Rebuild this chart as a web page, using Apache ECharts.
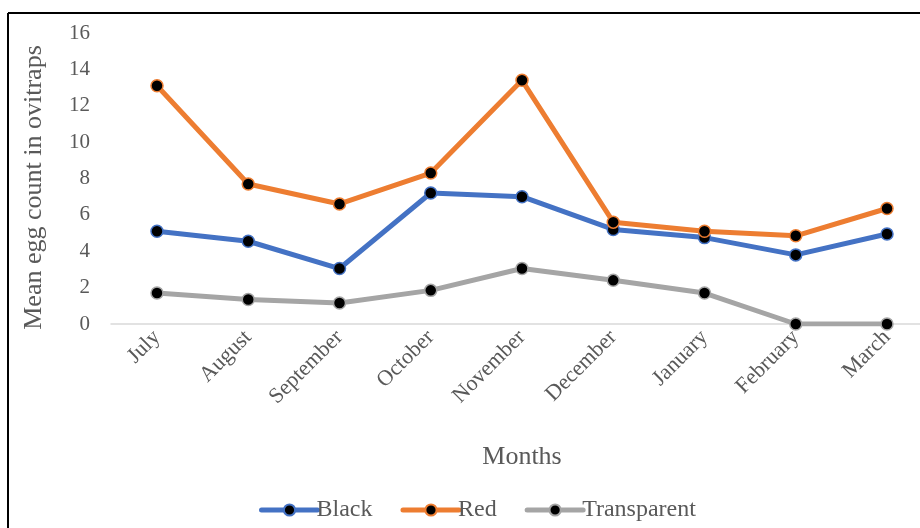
<!DOCTYPE html>
<html>
<head>
<meta charset="utf-8">
<script src="https://cdn.jsdelivr.net/npm/echarts@6/dist/echarts.min.js"></script>
<style>html,body{margin:0;padding:0;background:#fff}#c{width:920px;height:528px}</style>
</head>
<body>
<div id="c"></div>
<script>
const months = ['July','August','September','October','November','December','January','February','March'];
const black = [5.1, 4.55, 3.05, 7.2, 7.0, 5.2, 4.75, 3.8, 4.95];
const red = [13.1, 7.7, 6.6, 8.3, 13.4, 5.6, 5.1, 4.85, 6.35];
const transparent = [1.7, 1.35, 1.15, 1.85, 3.05, 2.4, 1.7, 0, 0];
const seriesNames = ['Black', 'Red', 'Transparent'];
const seriesColors = ['#4472C4', '#ED7D31', '#A5A5A5'];
const seriesData = [black, red, transparent];
const yMin = 0, yMax = 16, yStep = 2;

const font = "'Liberation Serif', 'Times New Roman', serif";
const chart = echarts.init(document.getElementById('c'));
chart.setOption({
  animation: false,
  backgroundColor: '#fff',
  graphic: [
    {type: 'line', shape: {x1: 8, y1: 13, x2: 920, y2: 13}, style: {stroke: '#000', lineWidth: 2}},
    {type: 'line', shape: {x1: 8, y1: 13, x2: 8, y2: 528}, style: {stroke: '#000', lineWidth: 2}}
  ],
  grid: [
    {left: 157, right: 33, top: 33, height: 291},
    {left: 111, right: 0, top: 33, height: 291}
  ],
  legend: {
    left: 254, top: 493,
    itemWidth: 56, itemHeight: 14, itemGap: 28,
    lineStyle: {width: 5, cap: 'round'},
    textStyle: {fontFamily: font, fontSize: 24, color: '#595959', padding: [0, 0, 0, -6]},
    data: seriesNames
  },
  xAxis: [
    {
      type: 'category',
      gridIndex: 0,
      data: months,
      boundaryGap: false,
      name: 'Months',
      nameLocation: 'middle',
      nameGap: 120,
      nameTextStyle: {fontFamily: font, fontSize: 26, color: '#595959'},
      axisLine: {show: false},
      axisTick: {show: false},
      splitLine: {show: false},
      axisLabel: {rotate: 45, fontFamily: font, fontSize: 22, color: '#595959', margin: 10, interval: 0}
    },
    {
      type: 'value',
      gridIndex: 1,
      min: 0, max: 1,
      axisLine: {show: true, lineStyle: {color: '#D9D9D9', width: 1.5}},
      axisTick: {show: false},
      axisLabel: {show: false},
      splitLine: {show: false}
    }
  ],
  yAxis: [
    {
      type: 'value',
      gridIndex: 0,
      min: yMin, max: yMax, interval: yStep,
      show: false
    },
    {
      type: 'value',
      gridIndex: 1,
      min: yMin, max: yMax, interval: yStep,
      name: 'Mean egg count in ovitraps',
      nameLocation: 'middle',
      nameGap: 64,
      nameTextStyle: {fontFamily: font, fontSize: 26, color: '#595959', padding: [0, 18, 0, 0]},
      axisLine: {show: false},
      axisTick: {show: false},
      splitLine: {show: false},
      axisLabel: {fontFamily: font, fontSize: 21, color: '#595959', margin: 21}
    }
  ],
  series: seriesNames.map((n, i) => ({
    name: n,
    type: 'line',
    xAxisIndex: 0,
    yAxisIndex: 0,
    data: seriesData[i],
    symbol: 'circle',
    symbolSize: 12,
    lineStyle: {color: seriesColors[i], width: 5, cap: 'round', join: 'round'},
    itemStyle: {color: '#000', borderColor: seriesColors[i], borderWidth: 1.5}
  }))
});
</script>
</body>
</html>
